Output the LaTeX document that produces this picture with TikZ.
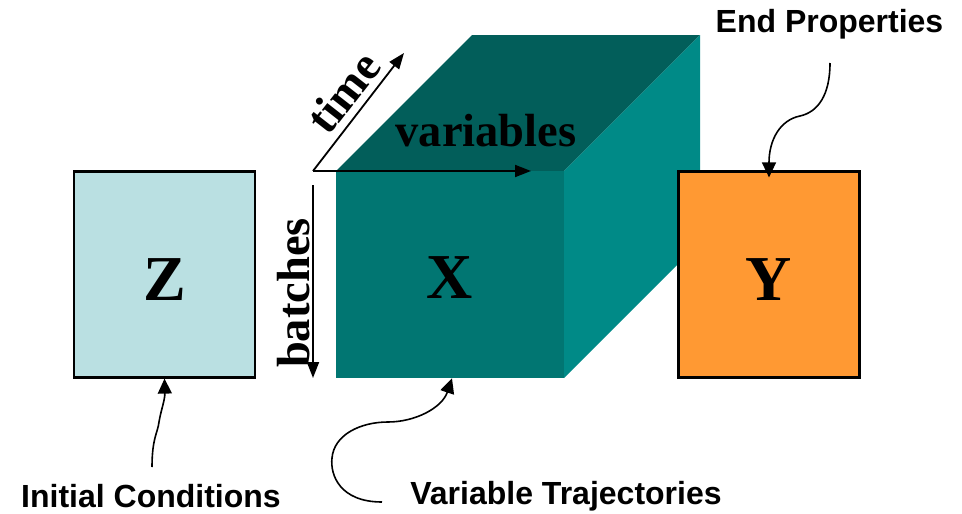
\documentclass[tikz,border=0pt]{standalone}
\usepackage{fontspec}
\setmainfont{Liberation Serif}
\setsansfont{Liberation Sans}
\usetikzlibrary{arrows.meta}
\definecolor{frontteal}{RGB}{1,118,114}
\definecolor{topteal}{RGB}{2,94,90}
\definecolor{sideteal}{RGB}{0,138,135}
\definecolor{zfill}{RGB}{186,224,226}
\definecolor{yfill}{RGB}{255,153,51}
\tikzset{
  box/.style={draw=black, line width=2.2pt, minimum width=181pt, minimum height=206pt, inner sep=0pt},
  bigletter/.style={font=\fontsize{64}{70}\selectfont\bfseries},
  axislabel/.style={font=\fontsize{46.5}{50}\selectfont\bfseries, inner sep=0pt},
  callout/.style={font=\fontsize{32}{36}\selectfont\sffamily\bfseries, inner sep=0pt},
  axisarrow/.style={line width=1.8pt, -{Triangle[length=16pt,width=12pt]}},
  pointer/.style={line width=1.6pt, -{Triangle[length=15pt,width=14pt]}}
}
\begin{document}
\begin{tikzpicture}[x=1pt, y=-1pt]
\useasboundingbox (0,0) rectangle (962,514);

% data cube X: top, right side and front faces
\fill[topteal] (336,171) -- (472,35) -- (700,35) -- (564,171) -- cycle;
\fill[sideteal] (564,171) -- (700,35) -- (700,242) -- (564,378) -- cycle;
\node[fill=frontteal, minimum width=228pt, minimum height=207pt, inner sep=0pt] (xface) at (450,274.5) {};
\node[bigletter] (xlab) at (450,278) {X};

% initial conditions and end properties blocks
\node[box, fill=zfill] (zbox) at (164.5,274.5) {};
\node[bigletter] at (164.5,280) {Z};
\node[box, fill=yfill] (ybox) at (769,274.5) {};
\node[bigletter] at (769,280) {Y};

% axes of the cube
\coordinate (origin) at (313,171);
\coordinate (timeend) at (404,53);
\coordinate (varend) at (531,171);
\coordinate (batchtop) at (313,185);
\coordinate (batchend) at (313,378);
\draw[axisarrow] (origin) -- (timeend);
\draw[axisarrow] (origin) -- (varend);
\draw[axisarrow] (batchtop) -- (batchend);
\node[axislabel, anchor=base, rotate=52] (timelab) at (356,102) {time};
\node[axislabel, anchor=base] (varlab) at (486,146) {variables};
\node[axislabel, anchor=base, rotate=90] (batchlab) at (309,293) {batches};

% callout labels
\node[callout] (initlab) at (151,496) {Initial Conditions};
\node[callout] (trajlab) at (566,496) {Variable Trajectories};
\node[callout] (endlab) at (829.5,24) {End Properties};

% pointers from the callouts
\coordinate (inittail) at (152,467);
\coordinate (trajtail) at (382,502);
\coordinate (endtail) at (830,63);
\draw[pointer] (inittail) .. controls (152,438) and (158,432) .. (159,422)
  .. controls (161,410) and (165,400) .. (zbox.south);
\draw[pointer] (trajtail) .. controls (340,502) and (330,475) .. (332,458)
  .. controls (334,435) and (360,422) .. (388,422)
  .. controls (415,422) and (442,408) .. ([xshift=2pt]xface.south);
\draw[pointer] (endtail) .. controls (830,95) and (818,112) .. (800,116)
  .. controls (780,120) and (769,140) .. ([yshift=-7pt]ybox.north);
\end{tikzpicture}
\end{document}
